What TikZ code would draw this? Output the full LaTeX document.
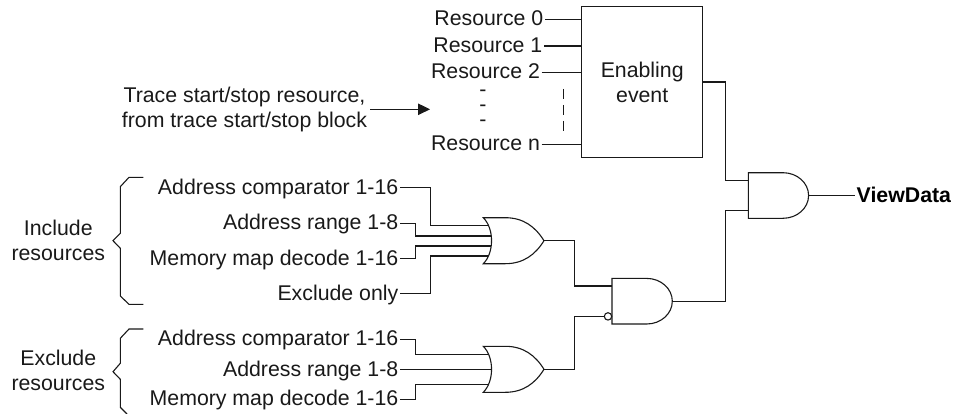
\documentclass[tikz,border=0pt]{standalone}
\usepackage{fontspec}
\setmainfont{Liberation Sans}
\usetikzlibrary{arrows.meta}
\tikzset{
  wire/.style={line width=1.1pt,draw=black!90,line join=miter},
  lbl/.style={anchor=east,inner ysep=0pt,inner xsep=1.5pt,text height=16pt,text depth=3pt,font=\fontsize{21.3}{25}\selectfont,text=black!90},
  txt/.style={inner sep=0pt,align=center,font=\fontsize{21.3}{25}\selectfont,text=black!90},
  orgate/.pic={
    \draw[wire] (0,-23) -- (22,-23) .. controls (40,-23) and (52,-14) .. (60.7,0)
      .. controls (52,14) and (40,23) .. (22,23) -- (0,23)
      .. controls (11,12) and (11,-12) .. (0,-23) -- cycle;
    \coordinate (-a) at (5,-15);
    \coordinate (-b) at (8,-4.7);
    \coordinate (-c) at (8,5.3);
    \coordinate (-d) at (5,15.3);
    \coordinate (-m) at (8.4,0.3);
    \coordinate (-out) at (60.7,0);
  },
  andgate/.pic={
    \draw[wire] (0,-22.8) -- (34.7,-22.8) .. controls (48.8,-22.8) and (60.3,-12.6) .. (60.3,0)
      .. controls (60.3,12.6) and (48.8,22.8) .. (34.7,22.8) -- (0,22.8) -- cycle;
    \coordinate (-a) at (0,-15.2);
    \coordinate (-b) at (0,15.4);
    \coordinate (-out) at (60.3,0);
  },
  bubble/.style={circle,draw=black!90,line width=1.1pt,fill=white,inner sep=0pt,minimum size=7.4pt},
}
\begin{document}
\begin{tikzpicture}[x=1pt,y=-1pt]
\path[use as bounding box] (0,0) rectangle (965,414);

% Enabling event block and its resources
\node[rectangle,wire,draw,minimum width=121pt,minimum height=150.6pt,txt,inner sep=0pt] (enabling) at (642.2,82) {Enabling\\event};
\node[lbl] (r0) at (545,19.3) {Resource 0};
\node[lbl] (r1) at (544,46) {Resource 1};
\node[lbl] (r2) at (541.7,72.3) {Resource 2};
\node[lbl] (rn) at (541.7,144.3) {Resource n};
\node[inner sep=0pt,align=center,text=black!90,font=\fontsize{21.3}{15}\selectfont] (dots) at (483,108.7) {-\\-\\-};
\foreach \r in {r0,r1,r2,rn} \draw[wire] (\r.east) -- (\r.east -| enabling.west);
\coordinate (vtop) at (563.3,89);
\coordinate (vbot) at (563.3,131);
\draw[wire,dash pattern=on 10pt off 6pt] (vtop) -- (vbot);

% Trace start/stop
\node[txt,anchor=east] (trace) at (367.2,109.3) {Trace start/stop resource,\\from trace start/stop block};
\coordinate (arrowend) at (430,109.3);
\draw[wire,-{Triangle[length=12pt,width=11.5pt]}] (trace.east) ++(2.8,0) -- (arrowend);

% Gates
\pic (ora) at (483.3,240.7) {orgate};
\pic (orb) at (483.3,369.3) {orgate};
\pic (anda) at (612,301.2) {andgate};
\pic (andb) at (748.3,195.5) {andgate};
\node[bubble] (inv) at (608,316.4) {};

% Include labels
\node[lbl] (ia) at (400,187.7) {Address comparator 1-16};
\node[lbl] (ib) at (400,223.3) {Address range 1-8};
\node[lbl] (ic) at (400,258.7) {Memory map decode 1-16};
\node[lbl] (id) at (400,293.7) {Exclude only};
\draw[wire] (ia.east) -- ++(30.7,0) |- (ora-a);
\draw[wire] (ib.east) -- ++(15.7,0) |- (ora-b);
\draw[wire] (ic.east) -- ++(15.7,0) |- (ora-c);
\draw[wire] (id.east) -- ++(30.7,0) |- (ora-d);

% Exclude labels
\node[lbl] (ea) at (400,339.3) {Address comparator 1-16};
\node[lbl] (eb) at (400,369.6) {Address range 1-8};
\node[lbl] (ec) at (400,399.3) {Memory map decode 1-16};
\draw[wire] (ea.east) -- ++(15.7,0) |- (orb-a);
\draw[wire] (eb.east) -- (orb-m);
\draw[wire] (ec.east) -- ++(15.7,0) |- (orb-d);

% Gate outputs
\draw[wire] (ora-out) -- ++(30.3,0) |- (anda-a);
\draw[wire] (orb-out) -- ++(30.3,0) |- (inv.west);
\draw[wire] (anda-out) -- ++(53,0) |- (andb-b);
\draw[wire] (enabling.east) -- ++(22.6,0) |- (andb-a);
\node[anchor=west,inner ysep=0pt,inner xsep=2pt,text height=16pt,text depth=3pt,font=\fontsize{21.3}{25}\selectfont\bfseries,text=black] (view) at (854.5,195.5) {ViewData};
\draw[wire] (andb-out) -- (view.west);

% Braces and group labels
\coordinate (bat) at (143.3,177.3);
\coordinate (bab) at (143.3,304.3);
\coordinate (bbt) at (143.3,329);
\coordinate (bbb) at (127,414);
\draw[wire] (bat) -- (129,177.3) -- (120.3,186.7) -- (120.3,233.3) -- (113,240.7) -- (120.3,248.3) -- (120.3,296) -- (129,304.3) -- (bab);
\draw[wire] (bbt) -- (129,329) -- (120.3,338.3) -- (120.3,363.3) -- (113,371.7) -- (120.3,379.3) -- (120.3,407.3) -- (bbb);
\node[txt] (inc) at (58.3,240.7) {Include\\resources};
\node[txt] (exc) at (58.3,370.5) {Exclude\\resources};
\end{tikzpicture}
\end{document}
